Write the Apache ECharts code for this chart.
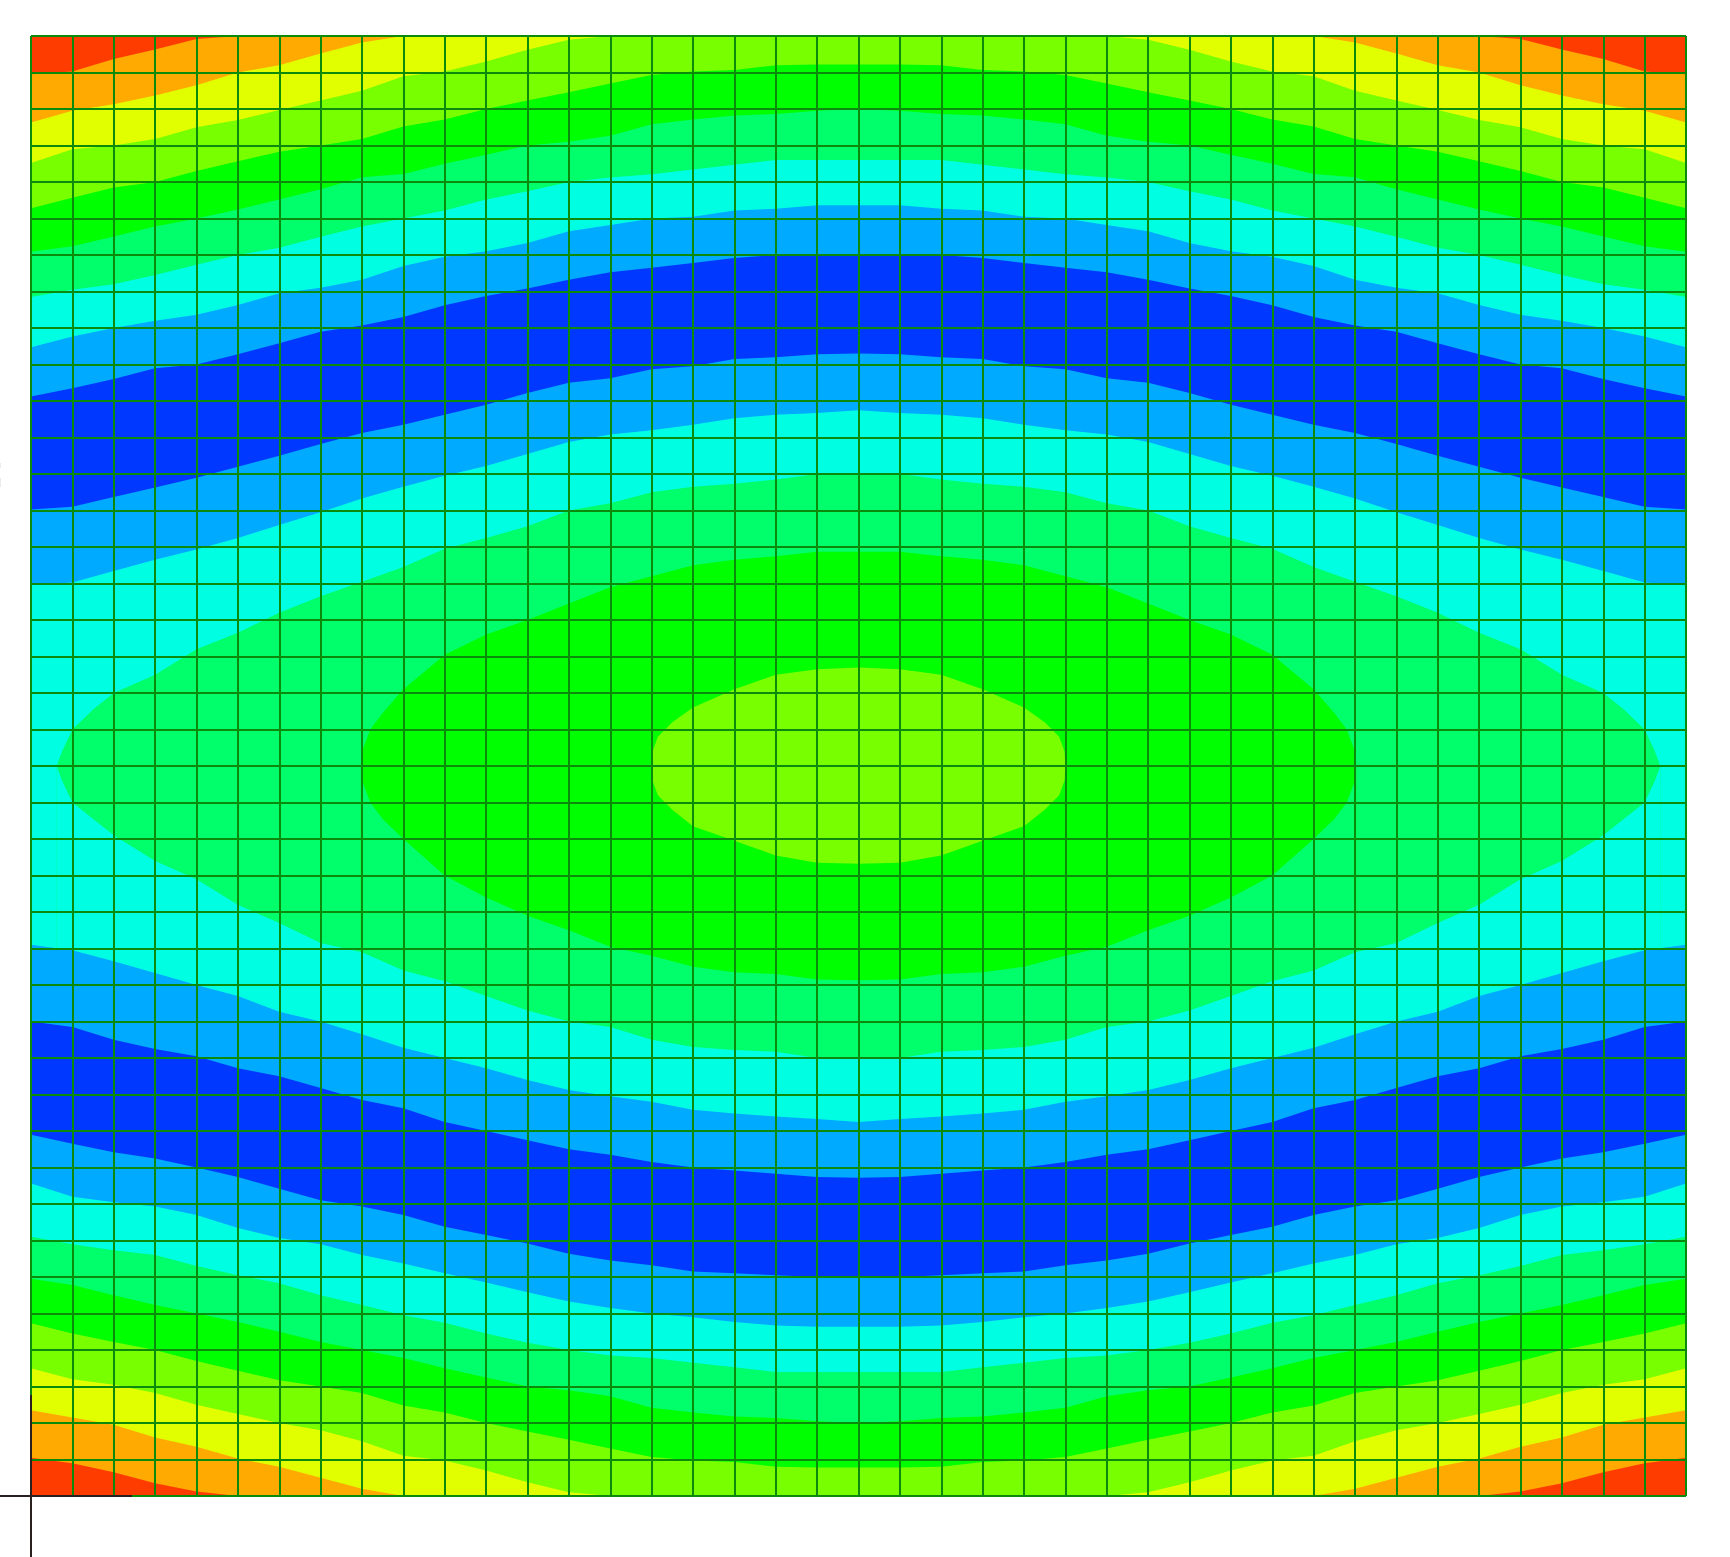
<!DOCTYPE html>
<html>
<head>
<meta charset="utf-8">
<style>html,body{margin:0;padding:0;background:#fff}#c{width:1730px;height:1557px}</style>
<script src="https://cdn.jsdelivr.net/npm/echarts@6/dist/echarts.min.js"></script>
</head>
<body>
<div id="c"></div>
<script>
// Mesh stations, one per element edge along the horizontal direction.
const stations = [0,1,2,3,4,5,6,7,8,9,10,11,12,13,14,15,16,17,18,19,20,21,22,23,24,25,26,27,28,29,30,31,32,33,34,35,36,37,38,39,40];

// Contour band colours, low row to high row.
const bandRed = '#ff3c00', bandOrange = '#ffaa00', bandYellow = '#e2ff00', bandLime = '#78ff00',
      bandGreen = '#00ff00', bandSpring = '#00ff6a', bandCyan = '#00ffe2', bandAzure = '#00aaff', bandBlue = '#0038ff';

// Contour boundaries: row position (from the top) at each station.
const redOrangeTop = [1.05,0.97,0.63,0.37,0.08,0,0,0,0,0,0,0,0,0,0,0,0,0,0,0,0,0,0,0,0,0,0,0,0,0,0,0,0,0,0,0,0.08,0.37,0.63,0.97,1.05];
const orangeYellowTop = [2.37,2.05,1.87,1.63,1.35,1.0,0.8,0.48,0.18,0,0,0,0,0,0,0,0,0,0,0,0,0,0,0,0,0,0,0,0,0,0,0,0.18,0.48,0.8,1.0,1.35,1.63,1.87,2.05,2.37];
const yellowLimeTop = [3.48,3.1,3.0,2.82,2.5,2.3,2.03,1.77,1.5,1.1,0.97,0.7,0.38,0.1,0,0,0,0,0,0,0,0,0,0,0,0,0,0.1,0.38,0.7,0.97,1.1,1.5,1.77,2.03,2.3,2.5,2.82,3.0,3.1,3.48];
const limeGreenTop = [4.72,4.43,4.15,4.0,3.7,3.43,3.17,3.0,2.82,2.48,2.29,2.0,1.77,1.54,1.3,1.07,0.97,0.93,0.8,0.78,0.78,0.78,0.8,0.93,0.97,1.07,1.3,1.54,1.77,2.0,2.29,2.48,2.82,3.0,3.17,3.43,3.7,4.0,4.15,4.43,4.72];
const greenSpringTop = [5.91,5.76,5.49,5.22,5.0,4.75,4.48,4.2,3.87,3.78,3.5,3.25,3.0,2.9,2.73,2.42,2.29,2.18,2.14,2.05,2.0,2.05,2.14,2.18,2.29,2.42,2.73,2.9,3.0,3.25,3.5,3.78,3.87,4.2,4.48,4.75,5.0,5.22,5.49,5.76,5.91];
const springCyanTop = [7.15,6.95,6.8,6.55,6.27,6.0,5.8,5.5,5.22,5.0,4.78,4.48,4.25,4.0,3.88,3.79,3.66,3.53,3.4,3.4,3.4,3.4,3.4,3.53,3.66,3.79,3.88,4.0,4.25,4.48,4.78,5.0,5.22,5.5,5.8,6.0,6.27,6.55,6.8,6.95,7.15];
const cyanAzureTop = [8.53,8.23,8.0,7.8,7.64,7.37,7.05,6.9,6.68,6.3,6.05,5.9,5.67,5.35,5.18,5.0,4.95,4.78,4.73,4.64,4.64,4.64,4.73,4.78,4.95,5.0,5.18,5.35,5.67,5.9,6.05,6.3,6.68,6.9,7.05,7.37,7.64,7.8,8.0,8.23,8.53];
const azureBlueTop = [9.88,9.65,9.4,9.1,9.0,8.72,8.42,8.1,7.93,7.7,7.38,7.12,6.92,6.68,6.47,6.35,6.22,6.08,6.0,6.0,6.0,6.0,6.0,6.08,6.22,6.35,6.47,6.68,6.92,7.12,7.38,7.7,7.93,8.1,8.42,8.72,9.0,9.1,9.4,9.65,9.88];
const blueAzureTop = [12.97,12.9,12.63,12.37,12.1,11.8,11.5,11.18,10.88,10.65,10.38,10.1,9.78,9.5,9.38,9.13,9.05,8.85,8.8,8.72,8.7,8.72,8.8,8.85,9.05,9.13,9.38,9.5,9.78,10.1,10.38,10.65,10.88,11.18,11.5,11.8,12.1,12.37,12.63,12.9,12.97];
const azureCyanTop = [15.05,14.97,14.66,14.35,14.07,13.75,13.4,13.05,12.67,12.35,12.05,11.78,11.45,11.12,10.92,10.8,10.65,10.47,10.38,10.33,10.25,10.33,10.38,10.47,10.65,10.8,10.92,11.12,11.45,11.78,12.05,12.35,12.67,13.05,13.4,13.75,14.07,14.35,14.66,14.97,15.05];

// Closed contours around the centre: [station, row] pairs.
const springUpper = [[0.62,20],[0.75,19.6],[1,19],[1.5,18.45],[2,18],[3,17.5],[4,16.8],[5,16.35],[6,15.8],[7,15.35],[8,14.95],[9,14.55],[10,14.05],[11,13.75],[12,13.43],[13,13],[14,12.8],[15,12.5],[16,12.35],[17,12.27],[18,12.15],[19,12],[20,12],[21,12],[22,12.15],[23,12.27],[24,12.35],[25,12.5],[26,12.8],[27,13],[28,13.43],[29,13.75],[30,14.05],[31,14.55],[32,14.95],[33,15.35],[34,15.8],[35,16.35],[36,16.8],[37,17.5],[38,18],[38.5,18.45],[39,19],[39.25,19.6],[39.38,20]];
const greenUpper = [[7.97,20],[8,19.6],[8.2,19],[8.5,18.55],[9,17.9],[10,16.95],[11,16.4],[12,16],[13,15.55],[14,15.1],[15,14.8],[16,14.5],[17,14.35],[18,14.25],[19,14.13],[20,14.13],[21,14.13],[22,14.25],[23,14.35],[24,14.5],[25,14.8],[26,15.1],[27,15.55],[28,16],[29,16.4],[30,16.95],[31,17.9],[31.5,18.55],[31.8,19],[32,19.6],[32.03,20]];
const limeUpper = [[15,20],[15.02,19.6],[15.15,19.2],[15.5,18.8],[16,18.4],[17,17.9],[18,17.5],[19,17.35],[20,17.3],[21,17.35],[22,17.5],[23,17.9],[24,18.4],[24.5,18.8],[24.85,19.2],[24.98,19.6],[25,20]];
const limeLower = [[15,20],[15.02,20.4],[15.15,20.8],[15.5,21.2],[16,21.65],[17,22.05],[18,22.45],[19,22.65],[20,22.68],[21,22.65],[22,22.45],[23,22.05],[24,21.65],[24.5,21.2],[24.85,20.8],[24.98,20.4],[25,20]];
const greenLower = [[7.97,20],[8,20.4],[8.2,21],[8.5,21.45],[9,22],[10,23],[11,23.6],[12,24.1],[13,24.5],[14,24.95],[15,25.2],[16,25.5],[17,25.65],[18,25.7],[19,25.85],[20,25.87],[21,25.85],[22,25.7],[23,25.65],[24,25.5],[25,25.2],[26,24.95],[27,24.5],[28,24.1],[29,23.6],[30,23],[31,22],[31.5,21.45],[31.8,21],[32,20.4],[32.03,20]];
const springLower = [[0.62,20],[0.75,20.4],[1,21],[2,21.9],[3,22.6],[4,23.1],[5,23.8],[6,24.3],[7,24.85],[8,25.1],[9,25.6],[10,25.9],[11,26.3],[12,26.7],[13,27],[14,27.15],[15,27.5],[16,27.7],[17,27.78],[18,27.83],[19,28],[20,28],[21,28],[22,27.83],[23,27.78],[24,27.7],[25,27.5],[26,27.15],[27,27],[28,26.7],[29,26.3],[30,25.9],[31,25.6],[32,25.1],[33,24.85],[34,24.3],[35,23.8],[36,23.1],[37,22.6],[38,21.9],[39,21],[39.25,20.4],[39.38,20]];

const cyanAzureLow = [24.9,25.05,25.35,25.67,26.0,26.3,26.73,27.0,27.35,27.72,28.0,28.28,28.6,28.88,29.05,29.2,29.42,29.52,29.6,29.67,29.75,29.67,29.6,29.52,29.42,29.2,29.05,28.88,28.6,28.28,28.0,27.72,27.35,27.0,26.73,26.3,26.0,25.67,25.35,25.05,24.9];
const azureBlueLow = [27.0,27.15,27.5,27.75,27.95,28.28,28.5,28.82,29.15,29.38,29.75,30.0,30.25,30.5,30.65,30.85,31.0,31.08,31.17,31.26,31.28,31.26,31.17,31.08,31.0,30.85,30.65,30.5,30.25,30.0,29.75,29.38,29.15,28.82,28.5,28.28,27.95,27.75,27.5,27.15,27.0];
const blueAzureLow = [30.1,30.35,30.58,30.75,31.0,31.26,31.58,31.9,32.07,32.3,32.62,32.85,33.08,33.36,33.55,33.68,33.85,33.9,33.95,34.0,34.0,34.0,33.95,33.9,33.85,33.68,33.55,33.36,33.08,32.85,32.62,32.3,32.07,31.9,31.58,31.26,31.0,30.75,30.58,30.35,30.1];
const azureCyanLow = [31.44,31.8,31.95,32.07,32.3,32.66,32.93,33.1,33.4,33.63,33.9,34.15,34.42,34.67,34.85,35.0,35.1,35.23,35.33,35.36,35.36,35.36,35.33,35.23,35.1,35.0,34.85,34.67,34.42,34.15,33.9,33.63,33.4,33.1,32.93,32.66,32.3,32.07,31.95,31.8,31.44];
const cyanSpringLow = [32.9,33.1,33.27,33.4,33.7,33.95,34.17,34.5,34.77,35.05,35.25,35.55,35.8,36.0,36.15,36.22,36.35,36.47,36.6,36.6,36.6,36.6,36.6,36.47,36.35,36.22,36.15,36.0,35.8,35.55,35.25,35.05,34.77,34.5,34.17,33.95,33.7,33.4,33.27,33.1,32.9];
const springGreenLow = [34.05,34.22,34.5,34.77,35.0,35.23,35.5,35.78,36.0,36.22,36.5,36.75,37.0,37.1,37.27,37.58,37.71,37.82,37.86,37.95,38.0,37.95,37.86,37.82,37.71,37.58,37.27,37.1,37.0,36.75,36.5,36.22,36.0,35.78,35.5,35.23,35.0,34.77,34.5,34.22,34.05];
const greenLimeLow = [35.27,35.55,35.78,36.0,36.3,36.57,36.83,37.0,37.18,37.52,37.71,38.0,38.23,38.46,38.7,38.93,39.03,39.07,39.2,39.22,39.22,39.22,39.2,39.07,39.03,38.93,38.7,38.46,38.23,38.0,37.71,37.52,37.18,37.0,36.83,36.57,36.3,36.0,35.78,35.55,35.27];
const limeYellowLow = [36.5,36.8,36.95,37.18,37.5,37.75,38.0,38.2,38.5,38.9,39.03,39.3,39.62,39.9,40,40,40,40,40,40,40,40,40,40,40,40,40,39.9,39.62,39.3,39.03,38.9,38.5,38.2,38.0,37.75,37.5,37.18,36.95,36.8,36.5];
const yellowOrangeLow = [37.65,37.85,38.05,38.4,38.65,38.97,39.2,39.5,39.8,40,40,40,40,40,40,40,40,40,40,40,40,40,40,40,40,40,40,40,40,40,40,40,39.8,39.5,39.2,38.97,38.65,38.4,38.05,37.85,37.65];
const orangeRedLow = [38.95,39.1,39.35,39.65,39.88,40,40,40,40,40,40,40,40,40,40,40,40,40,40,40,40,40,40,40,40,40,40,40,40,40,40,40,40,40,40,40,39.88,39.65,39.35,39.1,38.95];

// Global coordinate triad at the lower-left corner of the model.
const triadHorizontal = [[-0.75,40],[2.44,40]];
const triadVertical = [[0,37.23],[0,41.67]];

const atStations = v => v.map((y, i) => [stations[i], y]);
// Painter's order: every layer fills from its curve down to the bottom edge.
const layers = [
  ['orange top', atStations(redOrangeTop), bandOrange],
  ['yellow top', atStations(orangeYellowTop), bandYellow],
  ['lime top', atStations(yellowLimeTop), bandLime],
  ['green top', atStations(limeGreenTop), bandGreen],
  ['spring top', atStations(greenSpringTop), bandSpring],
  ['cyan top', atStations(springCyanTop), bandCyan],
  ['azure top', atStations(cyanAzureTop), bandAzure],
  ['blue top', atStations(azureBlueTop), bandBlue],
  ['azure mid top', atStations(blueAzureTop), bandAzure],
  ['cyan mid top', atStations(azureCyanTop), bandCyan],
  ['spring core', springUpper, bandSpring],
  ['green core', greenUpper, bandGreen],
  ['lime core', limeUpper, bandLime],
  ['green below core', limeLower, bandGreen],
  ['spring below core', greenLower, bandSpring],
  ['cyan below core', springLower, bandCyan],
  ['azure mid low', atStations(cyanAzureLow), bandAzure],
  ['blue low', atStations(azureBlueLow), bandBlue],
  ['azure low', atStations(blueAzureLow), bandAzure],
  ['cyan low', atStations(azureCyanLow), bandCyan],
  ['spring low', atStations(cyanSpringLow), bandSpring],
  ['green low', atStations(springGreenLow), bandGreen],
  ['lime low', atStations(greenLimeLow), bandLime],
  ['yellow low', atStations(limeYellowLow), bandYellow],
  ['orange low', atStations(yellowOrangeLow), bandOrange],
  ['red low', atStations(orangeRedLow), bandRed]
];

const series = layers.map(([name, data, color], i) => ({
  name, type: 'line', data, z: 2 + i * 0.01,
  showSymbol: false, symbol: 'none', smooth: false,
  lineStyle: { width: 0 },
  areaStyle: { color, opacity: 1, origin: 'end' },
  silent: true
}));

const meshLine = { show: true, lineStyle: { color: '#0c8a0c', width: 2, opacity: 1 } };
const chart = echarts.init(document.getElementById('c'), null, { renderer: 'canvas' });
chart.setOption({
  animation: false,
  backgroundColor: '#ffffff',
  grid: { left: 31, top: 36, width: 1655, height: 1460, show: true, backgroundColor: bandRed, borderWidth: 0 },
  xAxis: { type: 'value', min: 0, max: 40, interval: 1, z: 10,
    axisLine: { show: false }, axisTick: { show: false }, axisLabel: { show: false }, splitLine: meshLine },
  yAxis: { type: 'value', min: 0, max: 40, interval: 1, inverse: true, z: 10,
    axisLine: { show: false }, axisTick: { show: false }, axisLabel: { show: false }, splitLine: meshLine },
  tooltip: { show: false },
  legend: { show: false },
  series
});

// Triad lines run past the plot area, so they are placed through the axes' own scales.
const toPx = p => chart.convertToPixel({ gridIndex: 0 }, p);
const triadStyle = { stroke: '#2b2020', lineWidth: 2 };
const segment = ([a, b]) => {
  const p = toPx(a), q = toPx(b);
  return { type: 'line', silent: true, z: 50, shape: { x1: p[0], y1: p[1], x2: q[0], y2: q[1] }, style: triadStyle };
};
chart.setOption({
  graphic: [
    segment(triadHorizontal),
    segment(triadVertical),
    { type: 'rect', silent: true, shape: { x: 0, y: 463, width: 1, height: 5 }, style: { fill: '#ebebeb' } },
    { type: 'rect', silent: true, shape: { x: 0, y: 478, width: 1, height: 9 }, style: { fill: '#ebebeb' } }
  ]
});
</script>
</body>
</html>
